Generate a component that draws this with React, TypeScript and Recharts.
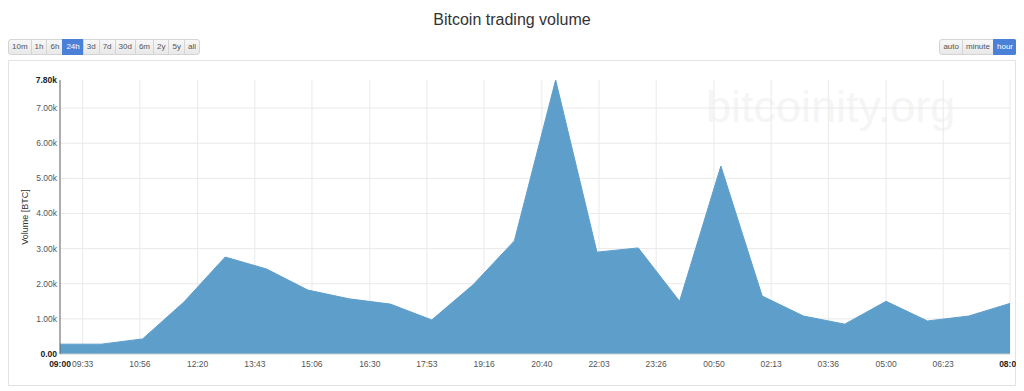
import { Area, AreaChart, CartesianGrid, XAxis, YAxis } from 'recharts';

// minutes after 09:00, one point per hour
const minutes = [0, 60, 120, 180, 240, 300, 360, 420, 480, 540, 600, 660, 720, 780, 840, 900, 960, 1020, 1080, 1140, 1200, 1260, 1320, 1380];
const volume = [280, 280, 430, 1480, 2760, 2420, 1820, 1570, 1420, 970, 1970, 3220, 7800, 2900, 3020, 1500, 5350, 1650, 1080, 850, 1500, 940, 1080, 1440];

const xTicks = [0, 33, 116, 200, 283, 366, 450, 533, 616, 700, 783, 866, 950, 1033, 1116, 1200, 1283, 1380];
const xTickLabels = ['09:00', '09:33', '10:56', '12:20', '13:43', '15:06', '16:30', '17:53', '19:16', '20:40', '22:03', '23:26', '00:50', '02:13', '03:36', '05:00', '06:23', '08:00'];

const yTicks = [0, 1000, 2000, 3000, 4000, 5000, 6000, 7000, 7800];
const yTickLabels = ['0.00', '1.00k', '2.00k', '3.00k', '4.00k', '5.00k', '6.00k', '7.00k', '7.80k'];
const yGrid = [1000, 2000, 3000, 4000, 5000, 6000, 7000];

const rangeButtons = ['10m', '1h', '6h', '24h', '3d', '7d', '30d', '6m', '2y', '5y', 'all'];
const resolutionButtons = ['auto', 'minute', 'hour'];

const data = minutes.map((m, i) => ({ t: m, volume: volume[i] }));

const FONT = '"Liberation Sans", Arial, sans-serif';

function XTick(props: any) {
  const { x, y, payload } = props;
  const i = xTicks.indexOf(payload.value);
  const edge = i === 0 || i === xTicks.length - 1;
  return (
    <text x={x} y={y} dy={12.5} textAnchor="middle" fontSize={8.5} fontFamily={FONT} fill={edge ? '#222' : '#555'} fontWeight={edge ? 'bold' : 'normal'}>
      {xTickLabels[i]}
    </text>
  );
}

function YTick(props: any) {
  const { x, y, payload } = props;
  const i = yTicks.indexOf(payload.value);
  const edge = i === 0 || i === yTicks.length - 1;
  return (
    <text x={x} y={y} dy={3} textAnchor="end" fontSize={8.5} fontFamily={FONT} fill={edge ? '#222' : '#555'} fontWeight={edge ? 'bold' : 'normal'}>
      {yTickLabels[i]}
    </text>
  );
}

function ButtonGroup({ labels, active }: { labels: string[]; active: string }) {
  return (
    <div style={{ display: 'flex' }}>
      {labels.map((l, i) => {
        const on = l === active;
        return (
          <div
            key={l}
            style={{
              height: 16,
              boxSizing: 'border-box',
              lineHeight: '14px',
              padding: '0 3px',
              fontSize: 8,
              fontFamily: FONT,
              color: on ? '#fff' : '#555',
              background: on ? '#4a80d8' : 'linear-gradient(#f7f7f7, #e8e8e8)',
              border: '1px solid ' + (on ? '#4a80d8' : '#d4d4d4'),
              marginLeft: i === 0 ? 0 : -1,
              borderTopLeftRadius: i === 0 ? 3 : 0,
              borderBottomLeftRadius: i === 0 ? 3 : 0,
              borderTopRightRadius: i === labels.length - 1 ? 3 : 0,
              borderBottomRightRadius: i === labels.length - 1 ? 3 : 0,
            }}
          >
            {l}
          </div>
        );
      })}
    </div>
  );
}

export default function App() {
  return (
    <div style={{ position: 'relative', width: 1008, height: 380, fontFamily: FONT }}>
      <div style={{ position: 'absolute', left: 0, top: 2, width: 1008, textAlign: 'center', fontSize: 16, lineHeight: '20px', color: '#333' }}>
        Bitcoin trading volume
      </div>
      <div style={{ position: 'absolute', left: 0, top: 31 }}>
        <ButtonGroup labels={rangeButtons} active="24h" />
      </div>
      <div style={{ position: 'absolute', right: -1, top: 31 }}>
        <ButtonGroup labels={resolutionButtons} active="hour" />
      </div>
      <div style={{ position: 'absolute', left: 0, top: 52, width: 1008, height: 326, boxSizing: 'border-box', border: '1px solid #e3e3e3' }} />
      <div style={{ position: 'absolute', left: 698, top: 74, fontSize: 45, lineHeight: '50px', color: '#f5f5f5', fontFamily: FONT }}>
        bitcoinity.org
      </div>
      <div style={{ position: 'absolute', left: 0, top: 52 }}>
        <AreaChart width={1008} height={326} data={data} margin={{ top: 20, right: 6, bottom: 10, left: 0 }}>
          <CartesianGrid stroke="#e9e9e9" horizontalValues={yGrid} />
          <XAxis
            dataKey="t"
            type="number"
            domain={[0, 1380]}
            ticks={xTicks}
            tick={<XTick />}
            tickLine={false}
            tickSize={0}
            tickMargin={0}
            height={22}
            interval={0}
            axisLine={{ stroke: '#cccccc' }}
          />
          <YAxis
            type="number"
            domain={[0, 7800]}
            ticks={yTicks}
            tick={<YTick />}
            tickLine={false}
            tickSize={0}
            tickMargin={3}
            width={52}
            interval={0}
            axisLine={{ stroke: '#666666' }}
            label={{ value: 'Volume [BTC]', angle: -90, position: 'insideLeft', offset: 17, style: { textAnchor: 'middle', fontSize: 9, fontFamily: FONT, fill: '#333' } }}
          />
          <Area type="linear" dataKey="volume" stroke="#5e9ecb" strokeWidth={1} fill="#5e9ecb" fillOpacity={1} isAnimationActive={false} />
        </AreaChart>
      </div>
    </div>
  );
}
